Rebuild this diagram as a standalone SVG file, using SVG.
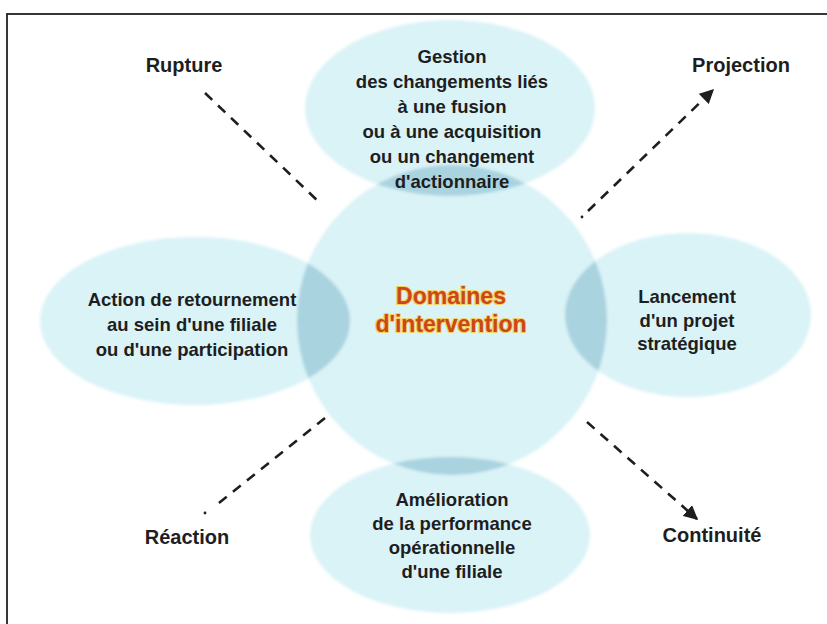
<svg xmlns="http://www.w3.org/2000/svg" width="827" height="624" viewBox="0 0 827 624">
<style>
.bub{fill:#daf3f7}
.lens{fill:#a9d3df}
.t{font-family:"Liberation Sans",Arial,sans-serif;font-weight:bold;font-size:18.5px;fill:#1e1e1e;text-anchor:middle}
.lbl{font-size:20px}
.title{font-family:"Liberation Sans",Arial,sans-serif;font-weight:bold;font-size:23px;fill:#c9471b;text-anchor:middle;stroke:#f6cf5a;stroke-width:2.2px;paint-order:stroke;stroke-linejoin:round}
.dash{fill:none;stroke:#1e1e1e;stroke-width:2.6;stroke-dasharray:10 8}
</style>
<defs>
<filter id="soft" x="-10%" y="-10%" width="120%" height="120%"><feGaussianBlur stdDeviation="1.5"/></filter>
<clipPath id="circ"><circle cx="452" cy="320" r="155"/></clipPath>
<marker id="arr" viewBox="0 0 10 10" refX="9" refY="5" markerWidth="5.5" markerHeight="5.5" orient="auto" markerUnits="strokeWidth"><path d="M0,0 L10,5 L0,10 Z" fill="#1e1e1e"/></marker>
</defs>
<rect x="7" y="14" width="840" height="640" fill="#fff" stroke="#222" stroke-width="1.8"/>
<g filter="url(#soft)">
<ellipse class="bub" cx="450" cy="108" rx="145" ry="88"/>
<ellipse class="bub" cx="195" cy="321" rx="155" ry="84"/>
<ellipse class="bub" cx="688" cy="315" rx="123" ry="82"/>
<ellipse class="bub" cx="450" cy="535" rx="140" ry="78"/>
<circle class="bub" cx="452" cy="320" r="155"/>
<g clip-path="url(#circ)">
<ellipse class="lens" cx="450" cy="108" rx="145" ry="88"/>
<ellipse class="lens" cx="195" cy="321" rx="155" ry="84"/>
<ellipse class="lens" cx="688" cy="315" rx="123" ry="82"/>
<ellipse class="lens" cx="450" cy="535" rx="140" ry="78"/>
</g>
</g>
<g id="connectors">
<line class="dash" x1="205" y1="93" x2="320" y2="203"/>
<line class="dash" x1="588" y1="211" x2="713" y2="90" marker-end="url(#arr)"/>
<circle cx="582" cy="217" r="1.4" fill="#1e1e1e"/>
<line class="dash" x1="325" y1="418" x2="214" y2="507"/>
<circle cx="205" cy="513" r="1.4" fill="#1e1e1e"/>
<line class="dash" x1="587" y1="422" x2="697" y2="519" marker-end="url(#arr)"/>
</g>
<g id="center">
<text class="title" x="451" y="304">Domaines</text>
<text class="title" x="451" y="332">d'intervention</text>
</g>
<g id="top">
<text class="t" x="452" y="63">Gestion</text>
<text class="t" x="452" y="88">des changements liés</text>
<text class="t" x="452" y="113">à une fusion</text>
<text class="t" x="452" y="138">ou à une acquisition</text>
<text class="t" x="452" y="163">ou un changement</text>
<text class="t" x="452" y="188">d'actionnaire</text>
</g>
<g id="left">
<text class="t" x="192" y="306">Action de retournement</text>
<text class="t" x="192" y="331">au sein d'une filiale</text>
<text class="t" x="192" y="356">ou d'une participation</text>
</g>
<g id="right">
<text class="t" x="687" y="303">Lancement</text>
<text class="t" x="687" y="327">d'un projet</text>
<text class="t" x="687" y="350">stratégique</text>
</g>
<g id="bottom">
<text class="t" x="452" y="506">Amélioration</text>
<text class="t" x="452" y="530">de la performance</text>
<text class="t" x="452" y="554">opérationnelle</text>
<text class="t" x="452" y="578">d'une filiale</text>
</g>
<g id="rupture"><text class="t lbl" x="184" y="72">Rupture</text></g>
<g id="projection"><text class="t lbl" x="741" y="72">Projection</text></g>
<g id="reaction"><text class="t lbl" x="187" y="544">Réaction</text></g>
<g id="continuite"><text class="t lbl" x="712" y="542">Continuité</text></g>
</svg>
